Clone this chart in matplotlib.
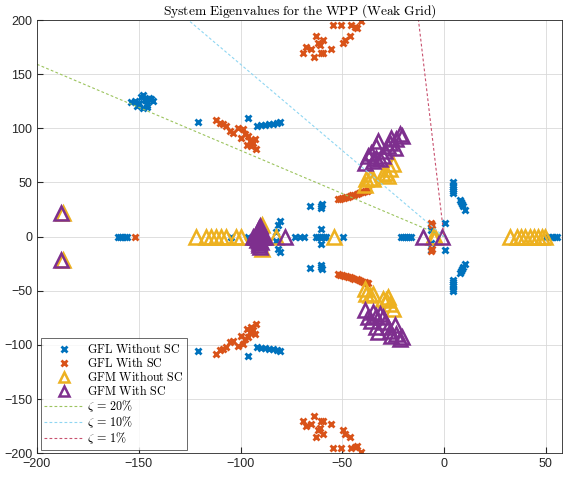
import numpy as np
import matplotlib.pyplot as plt

plt.rcParams['mathtext.fontset'] = 'cm'
plt.rcParams['font.family'] = ['Liberation Sans', 'DejaVu Sans']

# ---- eigenvalues (upper half-plane pairs; conjugates added below)
# GFL without SC
gfl_nosc_pairs = [-121+106j, -96.4+110j,
                  -92+102j, -90+103j, -88+103j, -86+104j, -84+104j, -82+105j, -80.5+106j,
                  -80.8+14j, -81.6+11j, -82.4+4j,
                  -66+28.7j, -60.3+28j, -60.5+26j, -60.2+30j, -60.3+7j,
                  -6.2+12j, 0.3+12.5j, -6.4+6j,
                  4.4+40j, 4.4+42j, 4.6+44j, 4.4+46j, 4.6+48j, 4.4+50j,
                  7.7+34j, 8.3+32j, 9+30j, 9.5+28j, 10.2+25j]
# points without a visible conjugate
gfl_nosc_single = [-154+124j, -152+125j, -150+123j, -149+129j, -148+131j, -147+126j,
                   -146+122j, -145+128j, -144+127j, -143+125j, -146+120j, -148+119j,
                   -151+121j,
                   -160, -159, -158, -157, -156, -104.5, -96.4, -73, -71, -69,
                   -63, -62, -61, -60, -59, -58, -49.6, -21, -20, -19, -18, -17, -16,
                   50, 51.5, 53, 54.5, 55.3]

# GFL with SC
gfl_sc_pairs = [-69.2+170j, -67.7+174.7j, -65.2+173j, -64+165.5j, -62.7+185.5j, -62+179j,
                -61+177j, -60.3+170j, -59.5+170j, -59.5+182j, -55.4+173j, -54.6+195j,
                -50.4+195j, -49.7+179j, -48.8+182j, -46.4+185.5j, -45.5+195j, -43.9+194j,
                -43+193j, -40.6+199j,
                -111.9+108j, -110.3+105j, -108.7+103.7j, -107+102j, -105.4+97.5j,
                -103.7+96j, -101.3+100.6j, -98.8+99j, -98+94.4j, -96.4+92.9j, -95.5+88j,
                -99.7+91.4j, -93.9+86.7j, -94.7+83.6j, -92.2+80.5j, -93+89.8j, -97+85j,
                -52+34.3j, -51+35j, -50+35.5j, -49+36j, -48+36.5j, -47+37j, -46+37.5j,
                -45+38j, -44+38.8j, -43+39.5j, -42+40j, -41+40.8j, -40+41.5j, -39+42j,
                -38+42.5j, -37.3+43j,
                -6.2+13j, -5.8+11j]
gfl_sc_single = [-152]

# GFM without SC
gfm_nosc_pairs = [-187+22j, -39+48j, -38.2+52.8j, -36.5+54.3j, -34.9+52.8j, -30+57.4j,
                  -28.3+59j, -26.7+62j, -25+66.7j, -27.5+55.8j, -89.5+11j]
gfm_nosc_single = [-121.8, -116.8, -114.4, -111.9, -109.4, -107, -102, -99.6,
                   -89, -82.4, -54.3, -5.4, -4.6,
                   32.3, 36, 38, 40, 42, 44, 46, 48, 49.5]

# GFM with SC
gfm_sc_pairs = [-188+22j,
                -39+68.2j, -37.4+74.4j, -35.7+77.5j, -33.2+83.6j, -32.4+88.2j, -34.9+69.7j,
                -33.2+72.9j, -31.6+71.3j, -30+74.4j, -29.2+79j, -27.5+83.6j, -26.7+86.8j,
                -25.9+91.4j, -24.2+82.1j, -23.4+89.8j, -21.8+94.4j, -20.9+92.9j,
                -91+2j, -91+4j, -91+6j, -91+8j, -90.5+10j, -92+3j, -90+5j]
gfm_sc_single = [-94, -93, -92, -91, -90, -89, -88, -78.3, -10.3, -0.8]

zetas = [0.20, 0.10, 0.01]
zeta_labels = [r'$\zeta\, =\, 20\%$', r'$\zeta\, =\, 10\%$', r'$\zeta\, =\, 1\%$']
zeta_colors = ['#9cc45e', '#8fd6f2', '#c8506e']


def eig(pairs, single):
    p = np.array(pairs)
    z = np.concatenate([p, np.conj(p), np.array(single, dtype=complex)])
    return z.real, z.imag


fig = plt.figure(figsize=(5.64, 4.78), dpi=100)
ax = fig.add_axes([0.0656, 0.052, 0.931, 0.906])

blue, orange, yellow, purple = '#0072BD', '#D95319', '#EDB120', '#7E2F8E'

x, y = eig(gfl_nosc_pairs, gfl_nosc_single)
ax.plot(x, y, 'x', color=blue, ms=5, mew=2, label=r'$\mathrm{GFL\ Without\ SC}$')
x, y = eig(gfl_sc_pairs, gfl_sc_single)
ax.plot(x, y, 'x', color=orange, ms=5, mew=2, label=r'$\mathrm{GFL\ With\ SC}$')
x, y = eig(gfm_nosc_pairs, gfm_nosc_single)
ax.plot(x, y, '^', color=yellow, mfc='none', ms=10, mew=1.8, label=r'$\mathrm{GFM\ Without\ SC}$')
x, y = eig(gfm_sc_pairs, gfm_sc_single)
ax.plot(x, y, '^', color=purple, mfc='none', ms=10, mew=1.8, label=r'$\mathrm{GFM\ With\ SC}$')

xs = np.array([-200.0, 0.0])
for z, lab, c in zip(zetas, zeta_labels, zeta_colors):
    ax.plot(xs, -xs / (2 * np.pi * z), '--', color=c, lw=0.8, dashes=(2.5, 2), label=lab)

ax.set_xlim(-200, 58)
ax.set_ylim(-200, 200)
ax.set_xticks([-200, -150, -100, -50, 0, 50])
ax.set_yticks(np.arange(-200, 201, 50))
ax.grid(True, color='#d9d9d9', lw=0.6)
ax.set_axisbelow(True)
ax.tick_params(direction='in', labelsize=9, colors='#262626', length=4)
for s in ax.spines.values():
    s.set_color('#262626')
    s.set_linewidth(0.6)
ax.set_title(r'$\mathrm{System\ Eigenvalues\ for\ the\ WPP\ (Weak\ Grid)}$', fontsize=9.7, pad=3)

leg = ax.legend(loc='lower left', fontsize=8.7, frameon=True, fancybox=False,
                edgecolor='#262626', borderaxespad=0.3, handlelength=3.3,
                handletextpad=0.2, labelspacing=0.0, borderpad=0.3, markerscale=0.75)
leg.get_frame().set_linewidth(0.6)

fig.savefig('out.png', dpi=100)
